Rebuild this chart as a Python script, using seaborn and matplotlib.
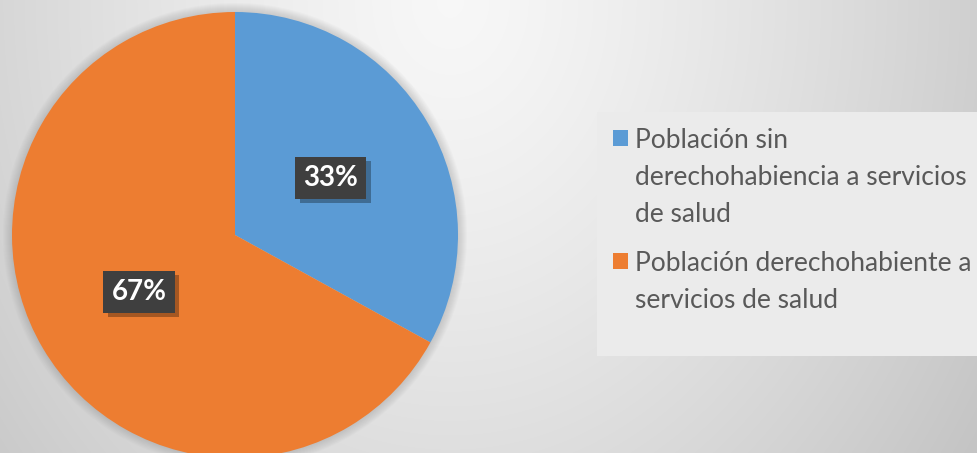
import numpy as np
import matplotlib
matplotlib.use("Agg")
import matplotlib.pyplot as plt
import matplotlib.patheffects as pe
from matplotlib.patches import Rectangle, Circle
import seaborn as sns

categories = ["Población sin\nderechohabiencia a servicios\nde salud",
              "Población derechohabiente a\nservicios de salud"]
values = [33, 67]
colors = ["#5B9BD5", "#ED7D31"]

sns.set_theme(style="white")
plt.rcParams['font.family'] = ['Lato', 'DejaVu Sans']

W, H = 977, 453
fig = plt.figure(figsize=(W / 100, H / 100), dpi=100)

# background radial gradient
bg = fig.add_axes([0, 0, 1, 1])
yy, xx = np.mgrid[0:H, 0:W]
d = np.sqrt(((xx - 450) / 560.0) ** 2 + ((yy - 0) / 700.0) ** 2)
img = 0.97 - 0.17 * d ** 1.3
img = np.clip(img, 0, 1)
bg.imshow(np.dstack([img, img, img]), extent=[0, W, H, 0], aspect='auto')
bg.set_xlim(0, W)
bg.set_ylim(H, 0)
bg.axis('off')

cx, cy, r = 235, 235, 223
# soft shadow around the pie
for k in range(1, 10):
    bg.add_patch(Circle((cx, cy), r + k, facecolor="#808080", edgecolor="none", alpha=0.035))

# legend box
bg.add_patch(Rectangle((597, 112), 385, 244, facecolor="#ebebeb", edgecolor="none"))

# pie
ax = fig.add_axes([(cx - r) / W, (H - cy - r) / H, 2 * r / W, 2 * r / H])
wedges, texts, autotexts = ax.pie(
    values, colors=colors, startangle=90, counterclock=False,
    autopct=lambda p: f"{p:.0f}%", pctdistance=0.5,
    wedgeprops=dict(linewidth=0),
    textprops=dict(color="white", fontsize=20, fontweight="bold"))
for t in autotexts:
    t.set_bbox(dict(boxstyle="square,pad=0.29", facecolor="#3f3f3f", edgecolor="none"))
    t.get_bbox_patch().set_path_effects([
        pe.SimplePatchShadow(offset=(3, -3), shadow_rgbFace="#000000", alpha=0.3),
        pe.Normal()])
ax.set_xlim(-1, 1)
ax.set_ylim(-1, 1)
ax.axis('off')

# legend (manual, squares aligned with first text line)
baselines = [148, 271]
line_h = 37
for lab, col, yb in zip(categories, colors, baselines):
    bg.add_patch(Rectangle((613, yb - 18), 15, 16, facecolor=col, edgecolor="none"))
    for i, line in enumerate(lab.split("\n")):
        bg.text(635, yb + i * line_h, line, fontsize=19, color="#595959",
                va="baseline", ha="left")

fig.savefig("out.png", dpi=100)
